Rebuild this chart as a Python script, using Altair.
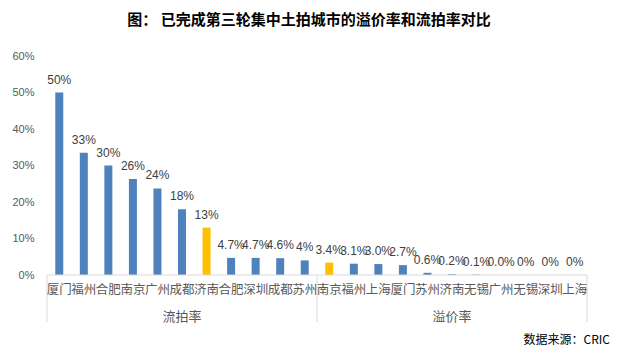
import altair as alt
import pandas as pd

cities = ["厦门", "福州", "合肥", "南京", "广州", "成都", "济南", "合肥", "深圳", "成都", "苏州",
          "南京", "福州", "上海", "厦门", "苏州", "济南", "无锡", "广州", "无锡", "深圳", "上海"]
values = [0.50, 0.335, 0.30, 0.263, 0.237, 0.18, 0.13, 0.047, 0.047, 0.046, 0.04,
          0.034, 0.031, 0.030, 0.027, 0.006, 0.002, 0.001, 0.0, 0.0, 0.0, 0.0]
labels = ["50%", "33%", "30%", "26%", "24%", "18%", "13%", "4.7%", "4.7%", "4.6%", "4%",
          "3.4%", "3.1%", "3.0%", "2.7%", "0.6%", "0.2%", "0.1%", "0.0%", "0%", "0%", "0%"]
highlight = [c == "济南" and i < 11 or (c == "南京" and i >= 11) for i, c in enumerate(cities)]
group_names = ["流拍率", "溢价率"]
group_size = 11
y_ticks = [0, 0.1, 0.2, 0.3, 0.4, 0.5, 0.6]

df = pd.DataFrame({
    "pos": [i + 0.5 for i in range(len(cities))],
    "city": cities,
    "value": values,
    "label": labels,
    "hl": highlight,
})
groups_df = pd.DataFrame({"group": group_names,
                          "pos": [group_size / 2, group_size + group_size / 2]})
div_df = pd.DataFrame({"pos": [0, group_size, 2 * group_size]})
base_df = pd.DataFrame({"a": [0], "b": [2 * group_size]})

H = 219
xscale = alt.Scale(domain=[0, 22], nice=False)
yscale = alt.Scale(domain=[0, 0.6], nice=False)
cjk = "Noto Sans CJK SC"

yaxis = alt.Axis(values=y_ticks, format=".0%", labelOverlap=False, tickCount=7,
                 domain=False, ticks=False, grid=False, labelColor="#595959",
                 labelFontSize=11, labelFont="Liberation Sans", labelPadding=8)

bars = alt.Chart(df).mark_bar(size=8).encode(
    x=alt.X("pos:Q", scale=xscale, axis=None),
    y=alt.Y("value:Q", scale=yscale, title=None, axis=yaxis),
    color=alt.condition(alt.datum.hl, alt.value("#FFC000"), alt.value("#4F81BD")),
)

vlabels = alt.Chart(df).mark_text(baseline="bottom", dy=-6, fontSize=12,
                                   font="Liberation Sans", color="#404040").encode(
    x=alt.X("pos:Q", scale=xscale, axis=None),
    y=alt.Y("value:Q", scale=yscale, title=None, axis=yaxis),
    text="label:N",
)

baseline = alt.Chart(base_df).mark_rule(color="#D9D9D9", strokeWidth=1).encode(
    x=alt.X("a:Q", scale=xscale, axis=None), x2="b:Q", y=alt.value(H))

dividers = alt.Chart(div_df).mark_rule(color="#D9D9D9", strokeWidth=1).encode(
    x=alt.X("pos:Q", scale=xscale, axis=None), y=alt.value(H), y2=alt.value(H + 47))

city_text = alt.Chart(df).mark_text(fontSize=12.5, font=cjk, color="#595959",
                                    baseline="middle").encode(
    x=alt.X("pos:Q", scale=xscale, axis=None), y=alt.value(H + 15), text="city:N")

group_text = alt.Chart(groups_df).mark_text(fontSize=13, font=cjk, color="#595959",
                                            baseline="middle").encode(
    x=alt.X("pos:Q", scale=xscale, axis=None), y=alt.value(H + 42), text="group:N")

source = alt.Chart(base_df).mark_text(fontSize=12, font=cjk, color="black",
                                      align="right", baseline="middle").encode(
    x=alt.value(568), y=alt.value(H + 65), text=alt.value("数据来源：CRIC"))

chart = alt.layer(bars, vlabels, baseline, dividers, city_text, group_text, source).properties(
    width=550, height=H,
    autosize=alt.AutoSizeParams(type="none"),
    padding={"left": 34, "top": 48, "right": 24, "bottom": 81},
    title=alt.TitleParams("图：  已完成第三轮集中土拍城市的溢价率和流拍率对比", fontSize=15,
                          fontWeight="bold", font=cjk, color="black", anchor="middle",
                          offset=22, dx=-8),
).configure_view(stroke=None)

chart.save("out.html", embed_options={"renderer": "svg", "actions": False})
